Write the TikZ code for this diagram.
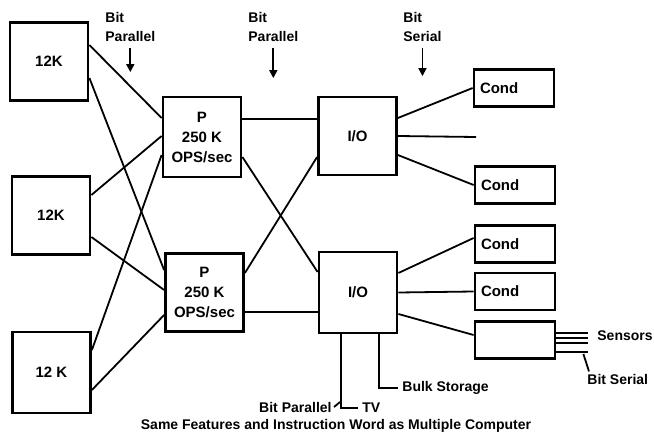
\documentclass[tikz,border=0pt]{standalone}
\usepackage{fontspec}
\setmainfont{Liberation Sans}
\usetikzlibrary{arrows.meta, positioning}

\begin{document}
\begin{tikzpicture}[
    x=0.5pt, y=-0.5pt,
    box/.style={draw, line width=1.4pt, minimum width=39pt, minimum height=39pt,
                font=\fontsize{7.5}{10}\selectfont\bfseries, align=center},
    slot/.style={draw, line width=1.4pt, minimum height=18.5pt, text width=34pt,
                 inner xsep=3pt, align=left, font=\fontsize{7.5}{9}\selectfont\bfseries},
    lbl/.style={font=\fontsize{7}{9.5}\selectfont\bfseries, inner sep=0pt, align=left},
    wire/.style={draw, line width=0.9pt},
    every edge/.style={wire},
    arr/.style={wire, -{Triangle[length=4pt, width=4pt]}}
  ]
  \useasboundingbox (0,0) rectangle (654,439);

  % memories
  \node[box] (m1) at (49,61.5) {12K};
  \node[box] (m2) at (51,215.5) {12K};
  \node[box, minimum height=40.5pt] (m3) at (51.5,372.5) {12 K};

  % processors and i/o
  \node[box, minimum height=40pt] (p1) at (202,137) {P\\250 K\\OPS/sec};
  \node[box] (p2) at (204.5,292.5) {P\\250 K\\OPS/sec};
  \node[box] (io1) at (357.5,136) {I/O};
  \node[box, minimum height=40.5pt] (io2) at (358,292.5) {I/O};

  % conditioners
  \node[slot] (c1) at (514,88) {Cond};
  \node[slot] (c2) at (515,185) {Cond};
  \node[slot] (c3) at (515,244) {Cond};
  \node[slot] (c4) at (515,291.5) {Cond};
  \node[slot] (sb) at (515,340) {};

  % bus labels
  \node[lbl, anchor=north west] (bp1) at (105,12) {Bit\\Parallel};
  \node[lbl, anchor=north west] (bp2) at (248,12) {Bit\\Parallel};
  \node[lbl, anchor=north west] (bs1) at (403,12) {Bit\\Serial};
  \draw[arr] ([yshift=-3pt]bp1.south) -- ++(0,-12pt);
  \draw[arr] ([yshift=-3pt]bp2.south) -- ++(0,-15pt);
  \draw[arr] ([yshift=-3pt]bs1.south) -- ++(0,-14pt);

  % memory to processor
  \path ([yshift=8.25pt]m1.east) edge ([yshift=9.5pt]p1.west)
        ([yshift=-8.25pt]m1.east) edge ([yshift=11.25pt]p2.west)
        ([yshift=10.25pt]m2.east) edge ([yshift=0.5pt]p1.west)
        ([yshift=-10.75pt]m2.east) edge ([yshift=1.25pt]p2.west)
        ([yshift=11.25pt]m3.east) edge ([yshift=-9pt]p1.west)
        ([yshift=-8.75pt]m3.east) edge ([yshift=-11.25pt]p2.west);

  % processor to i/o
  \path ([yshift=9pt]p1.east) edge ([yshift=8.5pt]io1.west)
        ([yshift=-10pt]p1.east) edge ([yshift=10.25pt]io2.west)
        ([yshift=9.75pt]p2.east) edge ([yshift=-10.5pt]io1.west)
        ([yshift=-9.75pt]p2.east) edge ([yshift=-9.75pt]io2.west);

  % i/o to conditioners
  \coordinate (spare) at (476,137);
  \path ([yshift=9pt]io1.east) edge (c1.west)
        (io1.east) edge (spare)
        ([yshift=-9.5pt]io1.east) edge (c2.west)
        ([yshift=9.75pt]io2.east) edge ([yshift=3pt]c3.west)
        (io2.east) edge (c4.west)
        ([yshift=-10.75pt]io2.east) edge ([yshift=2.5pt]sb.west);

  % sensors
  \node[lbl, anchor=west] (sens) at (597,336) {Sensors};
  \node[lbl, anchor=west] (bser) at (587,379) {Bit Serial};
  \foreach \dy in {3.5,1,-1.5,-6}
    \draw[wire] ([yshift=\dy pt]sb.east) -- ++(16pt,0);
  \draw[wire] ([xshift=13.5pt, yshift=-7pt]sb.east) -- ([xshift=1pt, yshift=1pt]bser.north west);

  % storage and tv
  \node[lbl, anchor=west] (bulk) at (402,388) {Bulk Storage};
  \node[lbl, anchor=west] (tv) at (362,408) {TV};
  \node[lbl, anchor=east] (bpar) at (332,407) {Bit Parallel};
  \draw[wire] ([xshift=10.5pt]io2.south) |- ([xshift=-2pt]bulk.west);
  \draw[wire] ([xshift=-8.5pt]io2.south) |- ([xshift=-2pt]tv.west);
  \draw[wire] ([xshift=1pt]bpar.east) -- ++(3pt,2.5pt);

  \node[lbl] (cap) at (336,426) {Same Features and Instruction Word as Multiple Computer};

\end{tikzpicture}
\end{document}
